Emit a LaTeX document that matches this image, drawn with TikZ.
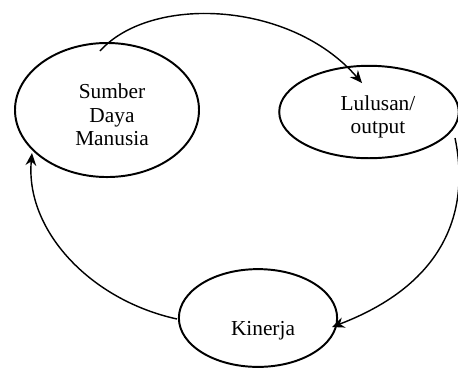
\documentclass[tikz,border=0pt]{standalone}
\usepackage{fontspec}
\setmainfont{Liberation Serif}
\usetikzlibrary{shapes.geometric, arrows.meta, positioning}

\begin{document}
\begin{tikzpicture}[x=0.5625pt, y=-0.5625pt,
    bubble/.style={ellipse, draw, line width=1.1pt, inner sep=0pt},
    txt/.style={align=center, font=\fontsize{12}{13.2}\selectfont},
    flow/.style={line width=0.8pt, -{Stealth[length=7pt, width=6pt]}}]
    \useasboundingbox (0,0) rectangle (458,367);
    % the three ellipses
    \node [bubble, minimum width=103.5pt, minimum height=75.4pt] (sdm) at (107,110) {};
    \node [bubble, minimum width=101pt, minimum height=52pt] (lulusan) at (369,112) {};
    \node [bubble, minimum width=89pt, minimum height=55pt] (kinerja) at (258,318) {};
    \node [txt] (sdmText) at (112,115) {Sumber\\Daya\\Manusia};
    \node [txt] (lulusanText) at (378,117) {Lulusan/\\output};
    \node [txt] (kinerjaText) at (263,331) {Kinerja};
    % the cycle
    \coordinate (a1) at (100,51);
    \coordinate (a2) at (362,83);
    \coordinate (b1) at (455,138);
    \coordinate (b2) at (332,327);
    \coordinate (c1) at (177,319);
    \coordinate (c2) at (32,153);
    \draw [flow] (a1) .. controls (150,-5) and (290,0) .. (a2);
    \draw [flow] (b1) .. controls (468,200) and (455,280) .. (b2);
    \draw [flow] (c1) .. controls (90,300) and (25,230) .. (c2);
\end{tikzpicture}
\end{document}
